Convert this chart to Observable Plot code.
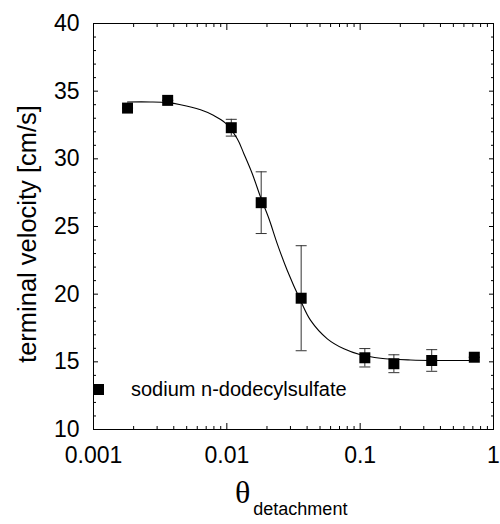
<!DOCTYPE html>
<html>
<head>
<meta charset="utf-8">
<script src="https://cdn.jsdelivr.net/npm/d3@7"></script>
<script src="https://cdn.jsdelivr.net/npm/@observablehq/plot@0.6"></script>
<style>
  html, body { margin: 0; padding: 0; background: #fff; }
  #wrap { position: relative; width: 500px; height: 524px; font-family: "Liberation Sans", Arial, sans-serif; color: #000; }
  #chart svg { display: block; }
  .ylabel { position: absolute; left: 27px; top: 234px; transform: translate(-50%, -50%) rotate(-90deg); white-space: nowrap; font-size: 25.5px; }
  .xlabel { position: absolute; left: 235px; top: 474px; white-space: nowrap; }
  .xlabel .theta { font-family: "Liberation Serif", "DejaVu Serif", serif; font-size: 32px; }
  .xlabel .sub { font-size: 18px; position: relative; top: 12px; margin-left: 3px; }
  .legend { position: absolute; left: 93px; top: 378px; display: flex; align-items: center; white-space: nowrap; font-size: 20px; }
  .legend .sw { width: 11px; height: 11px; background: #000; margin-right: 27px; }
</style>
</head>
<body>
<div id="wrap">
  <div id="chart"></div>
  <div class="ylabel">terminal velocity [cm/s]</div>
  <div class="xlabel"><span class="theta">θ</span><span class="sub">detachment</span></div>
  <div class="legend"><div class="sw"></div><span>sodium n-dodecylsulfate</span></div>
</div>
<script>
// Measured points
const xVals = [0.0018, 0.0036, 0.0108, 0.0181, 0.0361, 0.1084, 0.179, 0.344, 0.718];
const yVals = [33.75, 34.32, 32.3, 26.76, 19.7, 15.3, 14.86, 15.1, 15.34];
const yErr  = [0, 0, 0.62, 2.28, 3.88, 0.68, 0.66, 0.8, 0];

// Fitted curve
const curveX = [0.0018, 0.00268, 0.00359, 0.0045, 0.00635, 0.00799, 0.00977, 0.01197, 0.01342, 0.01552, 0.0179, 0.0207, 0.0239, 0.0284, 0.0357, 0.0425, 0.0567, 0.0755, 0.1007, 0.142, 0.239, 0.401, 0.72];
const curveY = [34.2, 34.2, 34.15, 34.0, 33.62, 33.2, 32.64, 31.48, 30.38, 28.9, 27.17, 25.57, 23.72, 21.75, 19.53, 18.06, 16.7, 15.96, 15.52, 15.27, 15.14, 15.1, 15.1];

// Ticks
const xMajor = [0.001, 0.01, 0.1, 1];
const xMinor = [0.002, 0.003, 0.004, 0.005, 0.006, 0.007, 0.008, 0.009,
                0.02, 0.03, 0.04, 0.05, 0.06, 0.07, 0.08, 0.09,
                0.2, 0.3, 0.4, 0.5, 0.6, 0.7, 0.8, 0.9];
const yMajor = [10, 15, 20, 25, 30, 35, 40];
const yMinor = [11, 12, 13, 14, 16, 17, 18, 19, 21, 22, 23, 24, 26, 27, 28, 29, 31, 32, 33, 34, 36, 37, 38, 39];

const points = xVals.map((x, i) => ({x, y: yVals[i], e: yErr[i]}));
const curve = curveX.map((x, i) => ({x, y: curveY[i]}));

const cap = { draw(context) { context.moveTo(-5.5, 0); context.lineTo(5.5, 0); } };

const fmt = d => String(d);
const errColor = "#333";

const chart = Plot.plot({
  width: 500,
  height: 524,
  marginLeft: 93,
  marginRight: 7,
  marginTop: 23,
  marginBottom: 95,
  style: { fontFamily: "'Liberation Sans', Arial, sans-serif", color: "#000", background: "#fff" },
  x: { type: "log", domain: [0.001, 1] },
  y: { domain: [10, 40] },
  marks: [
    // tick marks (inward) on all sides
    Plot.axisX(xMajor, { anchor: "bottom", tickSize: -6, text: null, label: null }),
    Plot.axisX(xMinor, { anchor: "bottom", tickSize: -3, text: null, label: null }),
    Plot.axisX(xMajor, { anchor: "top", tickSize: -6, text: null, label: null }),
    Plot.axisX(xMinor, { anchor: "top", tickSize: -3, text: null, label: null }),
    Plot.axisY(yMajor, { anchor: "left", tickSize: -5, text: null, label: null }),
    Plot.axisY(yMinor, { anchor: "left", tickSize: -3, text: null, label: null }),
    Plot.axisY(yMajor, { anchor: "right", tickSize: -5, text: null, label: null }),
    Plot.axisY(yMinor, { anchor: "right", tickSize: -3, text: null, label: null }),
    // tick labels
    Plot.axisX(xMajor, { anchor: "bottom", tickSize: 0, tickPadding: 17, tickFormat: fmt, fontSize: 23, label: null }),
    Plot.axisY(yMajor, { anchor: "left", tickSize: 0, tickPadding: 14, tickFormat: fmt, fontSize: 23, label: null }),
    Plot.frame({ stroke: "#000", strokeWidth: 1 }),
    // error bars
    Plot.ruleX(points, { x: "x", y1: d => d.y - d.e, y2: d => d.y + d.e, stroke: errColor, strokeWidth: 1 }),
    Plot.dot(points, { x: "x", y: d => d.y - d.e, symbol: cap, r: 3, stroke: errColor, strokeWidth: 1, fill: "none" }),
    Plot.dot(points, { x: "x", y: d => d.y + d.e, symbol: cap, r: 3, stroke: errColor, strokeWidth: 1, fill: "none" }),
    // fit curve
    Plot.line(curve, { x: "x", y: "y", curve: "catmull-rom", stroke: "#000", strokeWidth: 1.1 }),
    // data markers
    Plot.dot(points, { x: "x", y: "y", symbol: "square", r: 6.2, fill: "#000", stroke: "none" })
  ]
});
document.getElementById("chart").appendChild(chart);
</script>
</body>
</html>
